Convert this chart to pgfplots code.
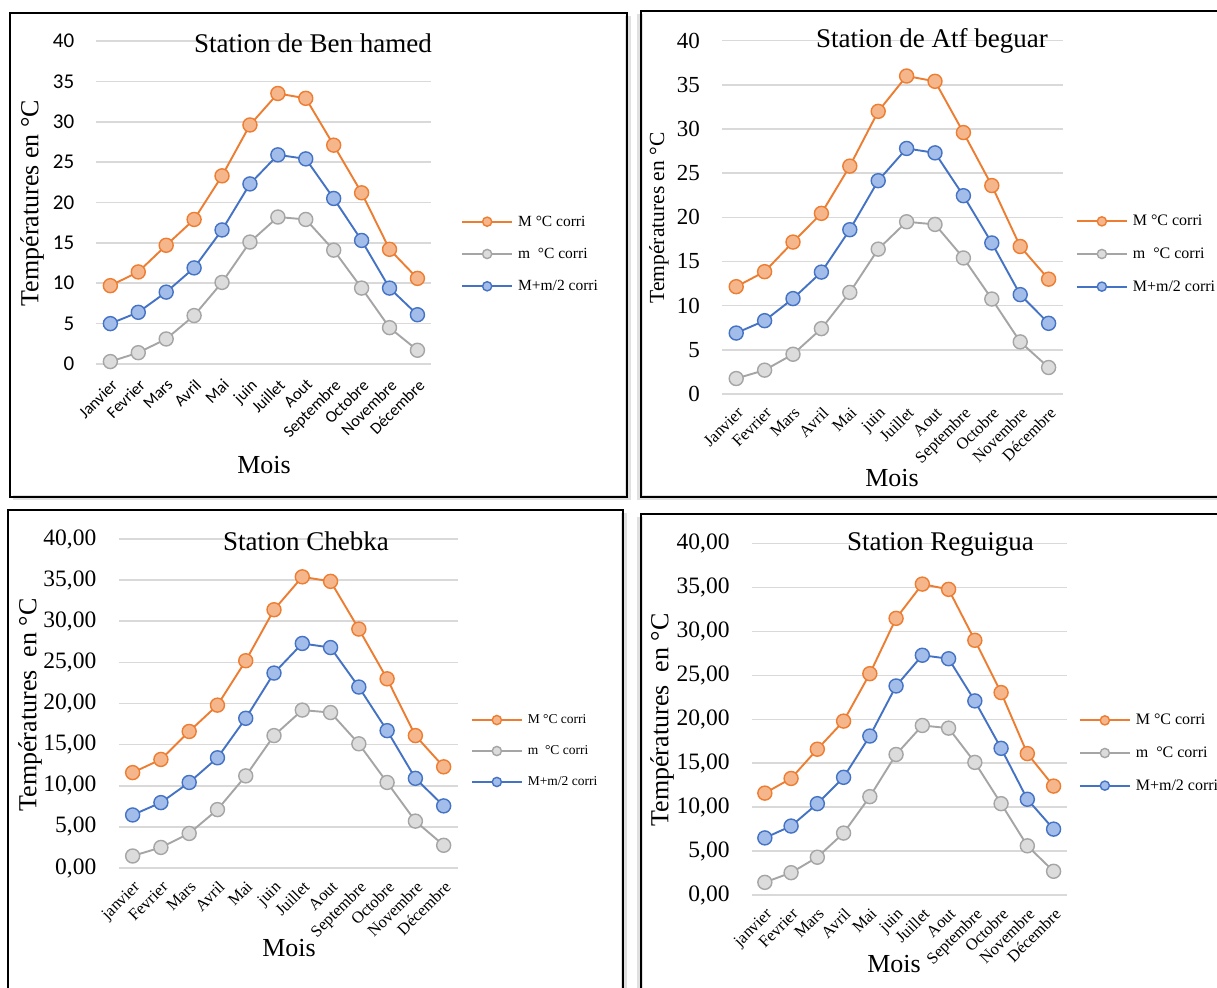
\documentclass[border=0pt]{standalone}
\usepackage{pgfplots}
\usepackage{pgfplotstable}
\pgfplotsset{compat=1.18}
\usepackage{fontspec}
\setmainfont{Liberation Serif}
\newfontfamily\calibri{Carlito}

\definecolor{serM}{HTML}{ED7D31}
\definecolor{serMfill}{HTML}{F6B68C}
\definecolor{serm}{HTML}{A5A5A5}
\definecolor{sermfill}{HTML}{DCDCDC}
\definecolor{serA}{HTML}{4472C4}
\definecolor{serAfill}{HTML}{A3BDEA}
\definecolor{gridc}{HTML}{D9D9D9}

\newcommand\fs[1]{\fontsize{#1}{#1}\selectfont}

% monthly temperatures: maxima, minima, mean
\pgfplotstableread{
mon Mx mn moy
0  9.7  0.3  5.0
1  11.4 1.4  6.4
2  14.7 3.1  8.9
3  17.9 6.0  11.9
4  23.3 10.1 16.6
5  29.6 15.1 22.3
6  33.5 18.2 25.9
7  32.9 17.9 25.4
8  27.1 14.1 20.5
9  21.2 9.4  15.3
10 14.2 4.5  9.4
11 10.6 1.7  6.1
}\benhamed
\pgfplotstableread{
mon Mx mn moy
0  12.15 1.75  6.9
1  13.85 2.7   8.3
2  17.2  4.5   10.8
3  20.45 7.4   13.8
4  25.8  11.5  18.6
5  32.0  16.4  24.15
6  36.0  19.5  27.8
7  35.4  19.2  27.3
8  29.6  15.4  22.45
9  23.6  10.75 17.1
10 16.7  5.9   11.25
11 13.0  3.0   8.0
}\atfbeguar
\pgfplotstableread{
mon Mx mn moy
0  11.6  1.46 6.45
1  13.2  2.5  7.95
2  16.6  4.2  10.4
3  19.8  7.1  13.4
4  25.2  11.2 18.2
5  31.4  16.1 23.7
6  35.4  19.2 27.3
7  34.85 18.9 26.8
8  29.05 15.1 22.0
9  23.0  10.4 16.7
10 16.1  5.7  10.9
11 12.3  2.76 7.55
}\chebka
\pgfplotstableread{
mon Mx mn moy
0  11.6  1.44 6.5
1  13.27 2.54 7.85
2  16.6  4.3  10.4
3  19.8  7.05 13.4
4  25.2  11.2 18.1
5  31.5  16.0 23.8
6  35.4  19.3 27.3
7  34.8  19.0 26.9
8  29.0  15.1 22.1
9  23.05 10.4 16.7
10 16.1  5.6  10.9
11 12.4  2.7  7.5
}\reguigua

\pgfplotsset{
  station/.style={
    scale only axis,
    xmin=-0.5, xmax=11.5, ymin=0, ymax=40,
    axis line style={draw=none},
    tick style={draw=none},
    major tick length=0pt,
    ytick={0,5,...,40},
    xtick={0,...,11},
    ymajorgrids,
    grid style={gridc, line width=1.6pt},
    /pgf/number format/assume math mode=true,
    xticklabel style={rotate=45, anchor=north east, inner sep=0pt},
    xticklabel shift=14pt,
    yticklabel style={anchor=east, inner sep=0pt, xshift=-22pt},
    legend cell align=left,
    legend style={draw=none, fill=none, inner sep=0pt, anchor=west,
      row sep=16.5pt, /tikz/every odd column/.append style={column sep=3pt}},
    legend image code/.code={\draw[mark repeat=2,mark phase=2,#1,mark size=4.6pt]
      plot coordinates {(0pt,0pt) (25pt,0pt) (50pt,0pt)};},
    clip=false,
  },
  sM/.style={serM, line width=1.9pt, mark=*, mark size=7pt,
    mark options={fill=serMfill, draw=serM, line width=1.4pt}},
  sm/.style={serm, line width=1.9pt, mark=*, mark size=7pt,
    mark options={fill=sermfill, draw=serm, line width=1.4pt}},
  sA/.style={serA, line width=1.9pt, mark=*, mark size=7pt,
    mark options={fill=serAfill, draw=serA, line width=1.4pt}},
  moisA/.style={xticklabels={Janvier,Fevrier,Mars,Avril,Mai,juin,Juillet,Aout,Septembre,Octobre,Novembre,Décembre}},
  moisB/.style={xticklabels={janvier,Fevrier,Mars,Avril,Mai,juin,Juillet,Aout,Septembre,Octobre,Novembre,Décembre}},
  virgule/.style={yticklabel style={/pgf/number format/fixed,
    /pgf/number format/fixed zerofill, /pgf/number format/precision=2,
    /pgf/number format/use comma}},
}

\begin{document}
\begin{tikzpicture}
\useasboundingbox (0pt,0pt) rectangle (1217pt,987pt);
\fill[white] (0pt,0pt) rectangle (1217pt,987pt);
\clip (0pt,0pt) rectangle (1217pt,987pt);

% panel frames with a light shadow
\begin{scope}[x=1pt,y=1pt]
\fill[black!12] (13,487) rectangle (631,971);
\draw[black, line width=2.6pt] (10,490) rectangle (627,974);
\fill[black!12] (637,487) rectangle (1225,973);
\draw[black, line width=2.6pt] (641,490) rectangle (1225,976);
\fill[black!12] (11,-8) rectangle (627,474);
\draw[black, line width=2.6pt] (8,-8) rectangle (623,477);
\fill[black!12] (637,-8) rectangle (1225,470);
\draw[black, line width=2.6pt] (641,-8) rectangle (1225,473);
\fill[white] (12,492) rectangle (625,972);
\fill[white] (643,492) rectangle (1223,974);
\fill[white] (10,-6) rectangle (621,475);
\fill[white] (643,-6) rectangle (1223,471);
\end{scope}

% Station de Ben hamed
\begin{axis}[station, moisA, at={(96.4pt,623pt)}, anchor=south west,
  width=335pt, height=323pt,
  xticklabel style={font=\calibri\fs{16.5}},
  yticklabel style={font=\calibri\fs{21}},
  legend style={at={(axis description cs:1.0884,0.3406)}, font=\fs{15.5}}]
\addplot[sM] table[x=mon,y=Mx] {\benhamed};
\addplot[sm] table[x=mon,y=mn] {\benhamed};
\addplot[sA] table[x=mon,y=moy] {\benhamed};
\legend{M °C corri, m~ °C corri, M+m/2 corri}
\end{axis}

% Station de Atf beguar
\begin{axis}[station, moisA, at={(722pt,593pt)}, anchor=south west,
  width=340.8pt, height=353.3pt,
  xticklabel shift=12pt,
  xticklabel style={font=\fs{16.5}},
  yticklabel style={font=\fs{23}},
  legend style={at={(axis description cs:1.0379,0.3963)}, font=\fs{16}}]
\addplot[sM] table[x=mon,y=Mx] {\atfbeguar};
\addplot[sm] table[x=mon,y=mn] {\atfbeguar};
\addplot[sA] table[x=mon,y=moy] {\atfbeguar};
\legend{M °C corri, m~ °C corri, M+m/2 corri}
\end{axis}

% Station Chebka
\begin{axis}[station, moisB, virgule, at={(118.5pt,119pt)}, anchor=south west,
  width=339.3pt, height=329pt,
  xticklabel shift=12pt,
  xticklabel style={font=\fs{16.5}},
  yticklabel style={font=\fs{23.5}},
  legend style={at={(axis description cs:1.038,0.3556)}, font=\fs{13.5}}]
\addplot[sM] table[x=mon,y=Mx] {\chebka};
\addplot[sm] table[x=mon,y=mn] {\chebka};
\addplot[sA] table[x=mon,y=moy] {\chebka};
\legend{M °C corri, m~ °C corri, M+m/2 corri}
\end{axis}

% Station Reguigua
\begin{axis}[station, moisB, virgule, at={(751.7pt,92pt)}, anchor=south west,
  width=315pt, height=351.3pt,
  xticklabel shift=12pt,
  xticklabel style={font=\fs{16.5}},
  yticklabel style={font=\fs{23.5}},
  legend style={at={(axis description cs:1.0381,0.4042)}, font=\fs{16}}]
\addplot[sM] table[x=mon,y=Mx] {\reguigua};
\addplot[sm] table[x=mon,y=mn] {\reguigua};
\addplot[sA] table[x=mon,y=moy] {\reguigua};
\legend{M °C corri, m~ °C corri, M+m/2 corri}
\end{axis}

% titles and axis names
\begin{scope}[x=1pt,y=1pt]
\node[anchor=base, font=\fs{27}] at (313,934) {Station de Ben hamed};
\node[rotate=90, font=\fs{26}] at (32,784) {Températures en °C};
\node[anchor=base, font=\fs{26}] at (264,513) {Mois};
\node[anchor=base, font=\fs{27}] at (932,939) {Station de Atf beguar};
\node[rotate=90, font=\fs{21.5}] at (659,769) {Températures en °C};
\node[anchor=base, font=\fs{26}] at (892,500) {Mois};
\node[anchor=base, font=\fs{27}] at (306,436) {Station Chebka};
\node[rotate=90, font=\fs{26}] at (30,282) {Températures~ en °C};
\node[anchor=base, font=\fs{26}] at (289,30) {Mois};
\node[anchor=base, font=\fs{27}] at (940.5,436) {Station Reguigua};
\node[rotate=90, font=\fs{26}] at (662,267) {Températures~ en °C};
\node[anchor=base, font=\fs{26}] at (894,15) {Mois};
\end{scope}
\end{tikzpicture}
\end{document}
